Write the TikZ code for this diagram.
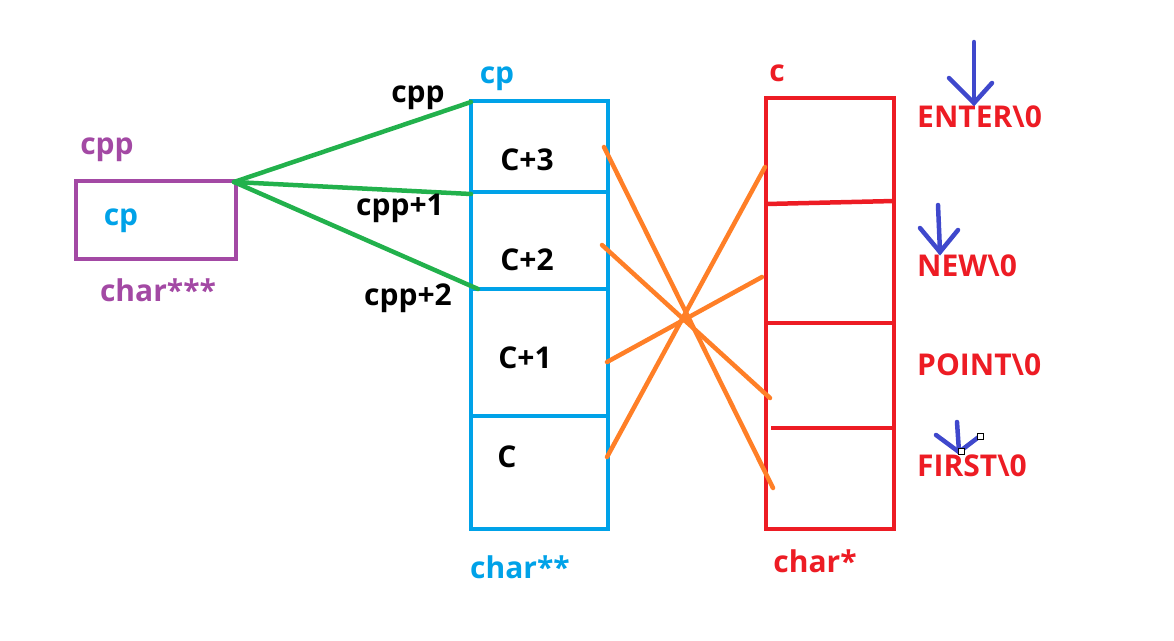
\documentclass[tikz,border=0pt]{standalone}
\usepackage{fontspec}
\setmainfont{Open Sans}
\definecolor{pur}{RGB}{163,73,164}
\definecolor{blu}{RGB}{0,162,232}
\definecolor{rd}{RGB}{237,28,36}
\definecolor{grn}{RGB}{34,177,76}
\definecolor{org}{RGB}{255,127,39}
\definecolor{arr}{RGB}{63,72,204}
\begin{document}
\begin{tikzpicture}[x=1pt,y=-1pt,
  lbl/.style={font=\fontsize{30}{33}\selectfont\bfseries, inner sep=0pt},
  boxline/.style={line width=4.5pt},
  gline/.style={grn, line width=4.5pt, line cap=round},
  oline/.style={org, line width=4.5pt, line cap=round},
  aline/.style={arr, line width=4.5pt, line cap=round}]
\useasboundingbox (0,0) rectangle (1174,640);
% purple box
\draw[pur, boxline] (76,181) rectangle (236,259);
\node[lbl, pur] (cpplbl) at (107,150) {cpp};
\node[lbl, blu] (cpin) at (121,221) {cp};
\node[lbl, pur] (c3) at (158,290) {char***};
\coordinate (src) at (234,182);
% blue box
\draw[blu, boxline] (471,101) rectangle (608,529);
\draw[blu, boxline] (471,192) -- (608,192);
\draw[blu, boxline] (471,289) -- (608,289);
\draw[blu, boxline] (471,416) -- (608,416);
\node[lbl, blu] (cplbl) at (497,79) {cp};
\node[lbl] (cp3) at (527,160) {C+3};
\node[lbl] (cp2) at (527,260) {C+2};
\node[lbl] (cp1) at (525,358) {C+1};
\node[lbl] (cp0) at (507,457) {C};
\node[lbl, blu] (c2) at (520,567) {char**};
% red box
\draw[rd, boxline] (766,98) rectangle (894,529);
\draw[rd, boxline] (766,204) -- (894,201);
\draw[rd, boxline] (766,323) -- (894,323);
\draw[rd, boxline] (771,428) -- (894,428);
\node[lbl, rd] (clbl) at (777,73) {c};
\node[lbl, rd] (c1) at (815,561) {char*};
\node[lbl, rd, anchor=west] (s1) at (917,117) {ENTER\textbackslash 0};
\node[lbl, rd, anchor=west] (s2) at (917,266) {NEW\textbackslash 0};
\node[lbl, rd, anchor=west] (s3) at (917,365) {POINT\textbackslash 0};
\node[lbl, rd, anchor=west] (s4) at (917,466) {FIRST\textbackslash 0};
% green
\coordinate (g1) at (471,102);
\coordinate (g2) at (471,194);
\coordinate (g3) at (478,289);
\draw[gline] (src) -- (g1);
\draw[gline] (src) -- (g2);
\draw[gline] (src) -- (g3);
\node[lbl] (l1) at (418,98) {cpp};
\node[lbl] (l2) at (400,208) {cpp+1};
\node[lbl] (l3) at (408,298) {cpp+2};
% orange
\coordinate (o1a) at (604,147); \coordinate (o1b) at (773,488);
\coordinate (o2a) at (602,245); \coordinate (o2b) at (770,398);
\coordinate (o3a) at (607,362); \coordinate (o3b) at (762,277);
\coordinate (o4a) at (607,457); \coordinate (o4b) at (765,167);
\draw[oline] (o1a) -- (o1b);
\draw[oline] (o2a) -- (o2b);
\draw[oline] (o3a) -- (o3b);
\draw[oline] (o4a) -- (o4b);
% blue arrows
\coordinate (a1t) at (974,42); \coordinate (a1h) at (974,103);
\draw[aline] (a1t) -- (a1h);
\draw[aline] (949,78) -- (a1h) -- (992,83);
\coordinate (a2t) at (938,205); \coordinate (a2h) at (940,252);
\draw[aline] (a2t) -- (a2h);
\draw[aline] (920,228) -- (a2h) -- (958,230);
\coordinate (a3t) at (957,422); \coordinate (a3h) at (959,452);
\draw[aline] (a3t) -- (a3h);
\draw[aline] (936,435) -- (a3h) -- (980,436);
\draw[black, fill=white, line width=1pt] (958,448) rectangle (964,454);
\draw[black, fill=white, line width=1pt] (977,433) rectangle (983,439);
\end{tikzpicture}
\end{document}
